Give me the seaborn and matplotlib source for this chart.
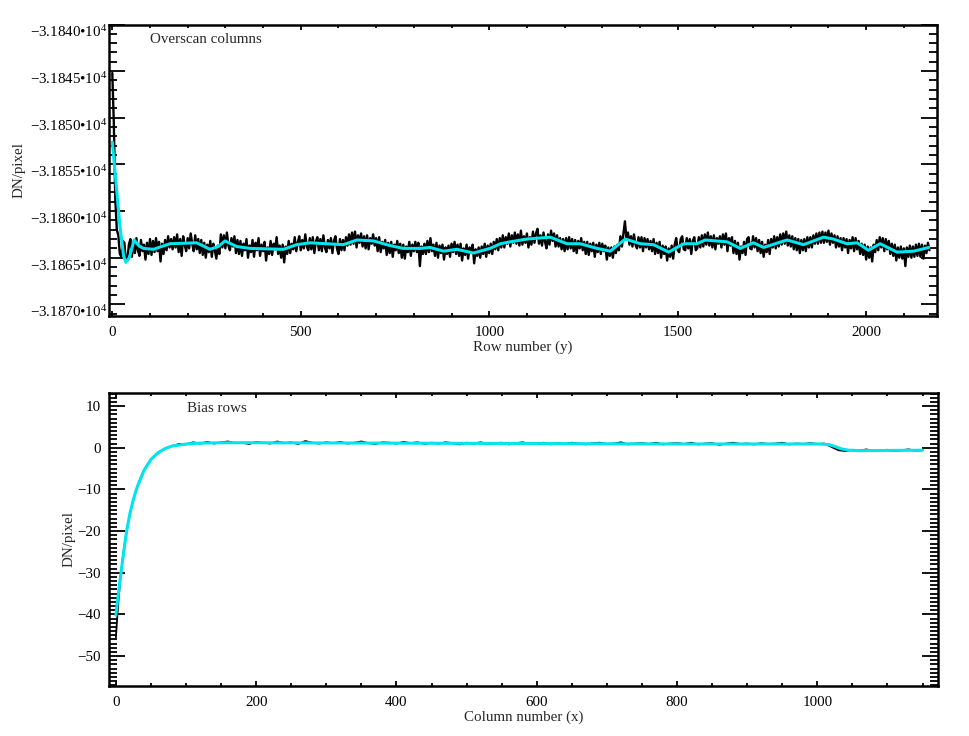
import numpy as np
import seaborn as sns
import matplotlib.pyplot as plt
from matplotlib.ticker import MultipleLocator, FuncFormatter

# overscan columns: mean DN per row, sampled every 4 rows
overscan_dn = [
    -31845.2, -31850.5, -31858.8, -31862.0, -31862.6, -31864.6, -31864.9, -31863.2,
    -31863.4, -31865.4, -31865.3, -31863.6,
    -31863.0, -31864.9, -31863.3, -31864.5, -31862.9, -31864.2, -31864.8, -31863.1,
    -31864.3, -31863.6, -31865.2, -31863.4, -31864.6, -31863.0,
    -31864.7, -31863.2, -31864.4, -31862.9, -31864.3, -31863.3, -31865.4, -31863.5,
    -31864.6, -31863.1, -31864.2, -31862.7, -31863.9, -31863.0,
    -31864.1, -31862.8, -31863.9, -31862.5, -31864.4, -31863.0, -31864.8, -31862.7,
    -31863.6, -31864.3, -31862.9, -31864.0, -31862.4, -31863.5, -31864.3, -31862.6,
    -31864.1, -31863.0,
    -31864.5, -31863.1, -31864.7, -31863.4, -31865.0, -31863.6, -31864.4, -31863.2,
    -31864.9, -31863.5, -31864.2, -31865.1, -31863.7, -31864.6,
    -31862.5, -31863.9, -31862.6, -31864.0, -31862.3, -31863.7, -31864.2, -31862.9,
    -31863.8, -31862.7, -31864.5, -31863.1,
    -31864.6, -31863.2, -31864.8, -31863.5, -31864.2, -31863.0, -31865.0, -31863.7,
    -31864.4, -31863.1, -31864.9, -31863.4, -31864.2, -31862.9, -31864.8, -31863.6,
    -31864.3, -31863.3, -31865.3, -31863.9, -31864.6, -31863.2, -31864.7, -31863.5,
    -31864.1, -31862.8, -31864.6, -31863.7, -31865.0, -31863.6,
    -31865.5, -31863.8, -31864.6, -31863.2, -31864.5, -31863.5, -31864.1, -31862.8,
    -31864.3, -31863.4, -31862.7, -31864.2, -31863.1, -31864.0, -31862.5, -31863.8,
    -31864.2, -31862.9,
    -31864.1, -31862.8, -31864.5, -31863.3, -31862.8, -31864.2, -31863.0, -31864.3,
    -31862.6, -31863.9, -31864.4, -31863.1, -31864.0, -31862.9, -31864.5, -31863.2,
    -31862.7, -31864.0, -31864.6, -31863.0, -31864.2, -31863.1,
    -31864.2, -31862.8, -31863.7, -31862.5, -31863.6, -31862.3, -31863.5, -31862.2,
    -31863.9, -31862.6, -31863.4, -31862.4, -31863.8, -31862.7, -31864.0, -31862.6,
    -31864.1, -31862.9, -31863.5, -31862.5, -31863.7, -31862.9,
    -31864.3, -31862.8, -31864.4, -31863.3, -31864.0, -31863.1, -31864.7, -31863.4,
    -31864.5, -31863.3, -31864.9, -31863.6, -31864.2, -31863.2, -31864.5, -31863.5,
    -31865.0, -31863.6, -31865.1, -31863.8, -31864.4, -31863.3, -31864.8, -31863.6,
    -31864.3, -31863.3,
    -31864.4, -31863.4, -31865.9, -31863.8, -31864.6, -31863.5, -31864.6, -31863.2,
    -31864.4, -31862.9, -31864.3, -31863.6, -31864.8, -31863.4, -31865.0, -31863.7,
    -31864.5, -31863.6, -31865.2, -31863.9,
    -31864.6, -31863.7, -31864.9, -31863.5, -31864.4, -31863.3, -31864.6, -31863.6,
    -31864.8, -31863.5, -31865.3, -31864.0, -31864.7, -31863.6, -31865.1, -31863.9,
    -31864.5, -31863.6, -31865.6, -31864.1, -31864.8, -31863.9, -31865.0, -31863.8,
    -31864.6, -31863.5, -31864.9, -31863.7, -31864.5, -31863.5,
    -31864.6, -31863.3, -31864.1, -31863.0, -31864.2, -31862.9, -31863.9, -31862.6,
    -31863.9, -31862.8, -31863.5, -31862.4, -31863.8, -31862.6, -31863.4, -31862.3,
    -31863.5, -31862.5, -31863.7, -31862.1, -31863.6, -31862.7, -31863.4, -31862.4,
    -31863.9, -31862.8,
    -31863.6, -31862.2, -31863.4, -31862.4, -31861.9, -31863.5, -31862.6, -31863.7,
    -31862.3, -31863.3, -31864.0, -31862.5, -31863.6, -31862.1, -31863.2, -31862.4,
    -31863.8, -31862.6, -31863.8, -31862.9, -31864.1, -31863.0, -31864.3, -31862.9,
    -31864.1, -31862.8, -31864.0, -31863.0, -31864.3, -31863.1, -31864.5, -31863.2,
    -31864.0, -31862.9, -31864.2, -31863.3, -31864.6, -31863.3, -31864.7, -31863.5,
    -31864.3, -31863.4, -31864.9, -31863.6, -31864.4, -31863.4, -31864.6, -31863.5,
    -31864.3, -31863.7, -31865.2, -31863.9, -31864.8, -31863.9,
    -31865.0, -31863.8, -31864.5, -31863.6, -31864.2, -31862.7, -31863.8, -31862.4,
    -31861.1, -31862.9, -31862.3, -31863.6, -31862.7, -31863.8, -31862.5, -31863.6,
    -31864.0, -31862.8, -31863.9, -31862.8,
    -31864.3, -31862.9, -31863.9, -31863.0, -31864.1, -31863.2, -31864.3, -31863.0,
    -31864.6, -31863.4, -31864.5, -31863.3, -31865.0, -31863.7, -31864.6, -31863.8,
    -31865.3, -31864.0, -31864.9, -31863.7,
    -31865.1, -31863.6, -31862.9, -31864.2, -31864.4, -31863.0, -31862.7, -31864.1,
    -31864.2, -31862.9, -31864.0, -31863.0, -31864.6, -31863.2, -31862.8, -31864.2,
    -31864.0, -31862.8, -31863.9, -31862.6,
    -31863.8, -31862.5, -31863.6, -31862.3, -31863.7, -31862.7, -31863.9, -31862.6,
    -31864.1, -31862.9, -31863.5, -31862.7, -31863.9, -31862.5, -31863.6, -31862.4,
    -31864.3, -31862.9, -31863.7, -31862.8,
    -31864.5, -31863.2, -31864.6, -31863.4, -31865.2, -31863.8, -31864.5, -31863.3,
    -31864.7, -31863.0, -31862.8, -31864.0, -31864.1, -31862.7, -31863.9, -31862.9,
    -31864.3, -31863.1, -31864.5, -31863.3, -31864.9, -31863.6,
    -31864.4, -31863.1, -31864.6, -31863.0, -31863.9, -31862.7, -31864.0, -31862.8,
    -31863.8, -31862.5, -31863.6, -31862.4, -31863.5, -31862.2, -31863.7, -31862.6,
    -31863.8, -31862.7,
    -31864.1, -31862.9, -31864.2, -31863.0, -31864.5, -31863.1, -31864.2, -31863.0,
    -31864.3, -31862.8, -31863.9, -31862.8, -31863.9, -31862.6, -31863.5, -31862.4,
    -31863.5, -31862.3, -31863.4, -31862.2,
    -31863.4, -31862.3, -31863.3, -31862.1, -31863.6, -31862.4, -31863.4, -31862.6,
    -31863.9, -31862.7, -31863.8, -31862.9, -31864.2, -31862.9, -31863.9, -31863.0,
    -31864.5, -31863.1, -31864.0, -31862.8,
    -31864.3, -31862.9, -31864.1, -31863.2, -31864.6, -31863.5, -31864.7, -31863.6,
    -31865.2, -31863.8, -31865.0, -31863.9, -31865.4, -31863.6, -31864.4, -31863.1,
    -31864.2, -31862.8, -31863.9, -31862.9,
    -31864.3, -31863.0, -31864.1, -31863.2, -31864.6, -31863.5, -31864.8, -31863.6,
    -31865.3, -31863.9, -31865.0, -31863.8, -31865.1, -31864.0, -31865.9, -31863.9,
    -31864.9, -31863.7, -31865.0, -31863.8, -31864.9, -31863.6, -31864.8, -31863.5,
    -31864.9, -31863.6, -31865.1, -31863.7, -31864.5, -31863.4, -31864.2,
]
overscan_rows = np.arange(0, 4 * len(overscan_dn), 4)

# smoothed overscan fit (cyan)
overscan_fit_rows = [0, 10, 20, 30, 36, 45, 58, 70, 82, 109, 153, 224, 259, 281, 299,
                     330, 365, 454, 489, 525, 613, 649, 693, 737, 772, 817, 843, 879,
                     914, 958, 1002, 1030, 1055, 1100, 1162, 1206, 1241, 1286, 1321,
                     1361, 1401, 1436, 1476, 1516, 1551, 1573, 1631, 1666, 1701, 1728,
                     1790, 1834, 1887, 1913, 1949, 1976, 2006, 2037, 2082, 2126, 2166]
overscan_fit_dn = [-31852.6, -31857.0, -31861.5, -31864.8, -31865.5, -31865.0, -31863.1,
                   -31863.7, -31864.0, -31864.1, -31863.5, -31863.4, -31864.1, -31863.8,
                   -31863.2, -31863.8, -31864.0, -31864.1, -31863.6, -31863.4, -31863.6,
                   -31863.1, -31863.2, -31863.7, -31864.0, -31864.0, -31863.9, -31864.3,
                   -31864.1, -31864.5, -31864.0, -31863.5, -31863.3, -31863.0, -31862.8,
                   -31863.5, -31863.5, -31864.0, -31864.3, -31863.0, -31863.5, -31863.6,
                   -31864.4, -31863.5, -31863.5, -31863.1, -31863.3, -31864.0, -31863.4,
                   -31863.9, -31863.1, -31863.6, -31862.8, -31863.0, -31863.5, -31863.4,
                   -31864.2, -31863.5, -31864.4, -31864.3, -31863.9]

# bias rows: mean DN per column
bias_cols = [0, 2, 4, 6, 8, 10, 13, 16, 20, 25, 30, 35, 40, 45, 50, 55, 60,
             70, 80, 90, 100, 110, 120] + list(range(130, 1151, 10))
bias_dn = [
    -45.5, -40.5, -36.0, -32.2, -29.0, -26.2, -22.5, -19.6, -15.9, -12.4, -9.6,
    -7.3, -5.4, -4.0, -2.9, -2.0, -1.3, -0.2, 0.4, 0.9, 0.8, 1.3, 1.0,
    1.4, 1.0, 1.3, 1.5, 1.1, 1.2, 0.9, 1.4, 1.2, 1.0, 1.5, 1.1, 1.3, 0.9, 1.6, 1.2,
    1.0, 1.3, 1.1, 1.4, 1.0, 1.2, 1.5, 1.1, 0.9, 1.3, 1.2, 1.0, 1.4, 1.1, 1.3, 0.9,
    1.2, 1.0, 1.3, 1.1, 0.8, 1.2, 1.0, 1.3, 0.9, 1.1, 1.2, 0.8, 1.1, 1.3, 0.9, 1.0,
    1.2, 0.8, 1.1, 0.9, 1.2, 1.0, 0.8, 1.1, 1.2, 0.9, 1.0, 1.3, 0.8, 1.0, 1.1, 0.9,
    1.2, 0.8, 1.0, 1.1, 0.9, 1.2, 0.8, 1.0, 1.1, 0.7, 1.0, 1.2, 0.9, 1.0, 0.8, 1.1,
    0.9, 1.0, 1.2, 0.8, 1.0, 0.9, 1.1, 0.9, 1.0, 0.2, -0.6, -0.8, -0.5, -0.7, -0.4,
    -0.8, -0.6, -0.5, -0.8, -0.6, -0.4, -0.7, -0.6,
]

# bias fit (cyan)
bias_fit_cols = [0, 5, 10, 15, 20, 25, 30, 40, 50, 60, 70, 80, 100, 120, 150, 200,
                 400, 600, 800, 1000, 1015, 1025, 1035, 1045, 1060, 1150]
bias_fit_dn = [-40.2, -33.0, -26.5, -20.3, -15.8, -12.4, -9.6, -5.5, -2.8, -1.2, -0.2,
               0.4, 0.9, 1.1, 1.2, 1.2, 1.1, 1.0, 0.9, 0.9, 0.8, 0.3, -0.3, -0.6, -0.7, -0.6]

sns.set_style('ticks')
plt.rcParams['font.family'] = ['Liberation Serif', 'DejaVu Serif']
plt.rcParams['mathtext.fontset'] = 'custom'
plt.rcParams['mathtext.rm'] = 'Liberation Serif'
plt.rcParams['mathtext.it'] = 'Liberation Serif:italic'
plt.rcParams['axes.unicode_minus'] = True

fit_color = '#00e5ee'
fs = 10.8

fig = plt.figure(figsize=(9.69, 7.36), dpi=100)
ax1 = fig.add_axes([0.112, 0.570, 0.855, 0.3967])
ax2 = fig.add_axes([0.112, 0.0679, 0.856, 0.3985])


def idl_axes(ax, xmaj, xmin, ymaj, ymin, ypad):
    ax.xaxis.set_major_locator(MultipleLocator(xmaj))
    ax.xaxis.set_minor_locator(MultipleLocator(xmin))
    ax.yaxis.set_major_locator(MultipleLocator(ymaj))
    ax.yaxis.set_minor_locator(MultipleLocator(ymin))
    ax.tick_params(which='both', direction='in', top=True, right=True,
                   labelsize=fs, width=1.3, color='black', labelcolor='black')
    ax.tick_params(axis='y', which='major', length=11.5, pad=ypad)
    ax.tick_params(axis='y', which='minor', length=5.8)
    ax.tick_params(axis='x', which='major', length=3.8, pad=7)
    ax.tick_params(axis='x', which='minor', length=2.2)
    for s in ax.spines.values():
        s.set_visible(True)
        s.set_linewidth(1.8)
        s.set_color('black')
    ax.grid(False)


# top panel
sns.lineplot(x=overscan_rows, y=overscan_dn, ax=ax1, color='black', lw=1.7,
             estimator=None)
sns.lineplot(x=overscan_fit_rows, y=overscan_fit_dn, ax=ax1, color=fit_color, lw=2.2,
             estimator=None)
ax1.set_xlim(-10, 2188)
ax1.set_ylim(-31871.3, -31840)
idl_axes(ax1, 500, 100, 5, 1, 1.0)
ax1.yaxis.set_major_formatter(
    FuncFormatter(lambda v, p: '\u2212%.4f\u2022$10^{4}$' % (-v / 1e4)))
for lbl in ax1.get_yticklabels():
    lbl.set_va('top')
ax1.set_xlabel('Row number (y)', fontsize=fs)
ax1.set_ylabel('DN/pixel', fontsize=fs)
ax1.xaxis.set_label_coords(0.5, -0.084)
ax1.yaxis.set_label_coords(-0.100, 0.5)
ax1.text(0.05, 0.947, 'Overscan columns', transform=ax1.transAxes,
         fontsize=fs, va='center', ha='left')

# bottom panel
sns.lineplot(x=bias_cols, y=bias_dn, ax=ax2, color='black', lw=1.3, estimator=None)
sns.lineplot(x=bias_fit_cols, y=bias_fit_dn, ax=ax2, color=fit_color, lw=2.2,
             estimator=None)
ax2.set_xlim(-10.5, 1172)
ax2.set_ylim(-57.2, 13.2)
idl_axes(ax2, 200, 50, 10, 1, 5.5)
ax2.set_xlabel('Column number (x)', fontsize=fs)
ax2.set_ylabel('DN/pixel', fontsize=fs)
ax2.xaxis.set_label_coords(0.5, -0.082)
ax2.yaxis.set_label_coords(-0.040, 0.5)
ax2.text(0.0945, 0.947, 'Bias rows', transform=ax2.transAxes,
         fontsize=fs, va='center', ha='left')

fig.savefig('out.png', dpi=100)
